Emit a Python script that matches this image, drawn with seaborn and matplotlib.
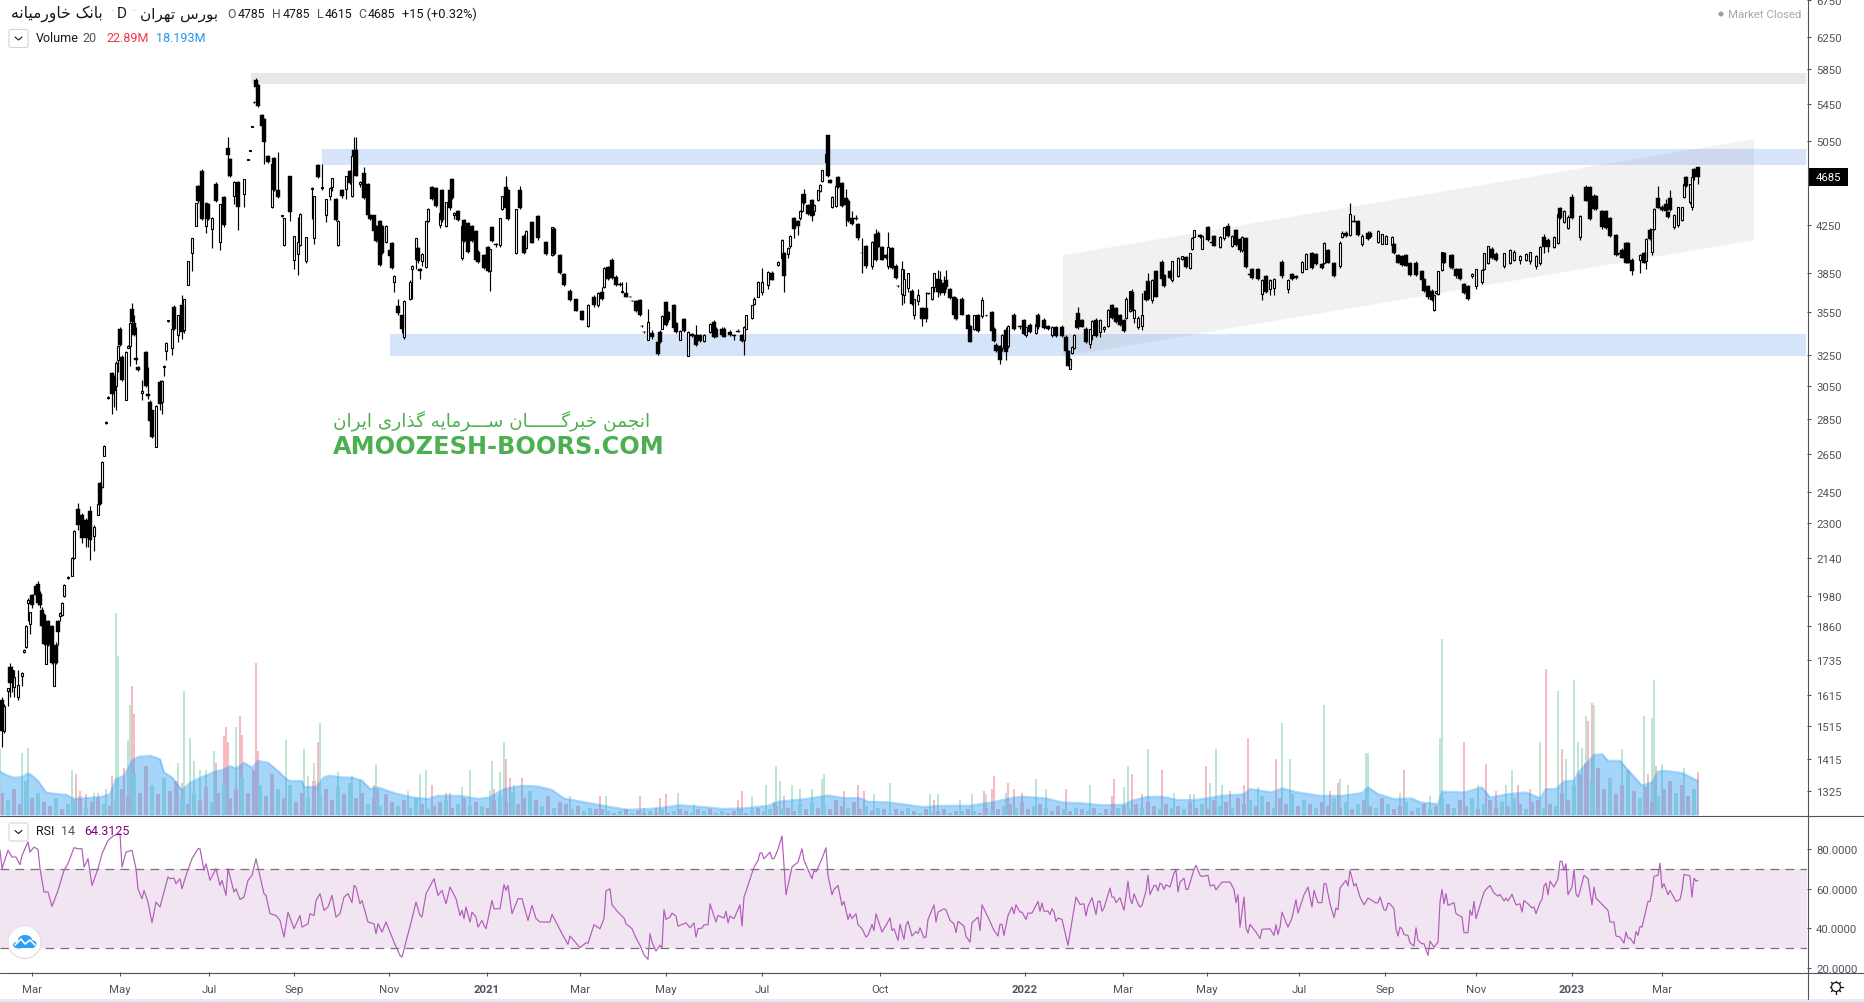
import numpy as np
import pandas as pd
import matplotlib
matplotlib.use('Agg')
import matplotlib.pyplot as plt
import seaborn as sns
from matplotlib.lines import Line2D
from matplotlib.patches import Circle, Ellipse, FancyBboxPatch, Rectangle
from matplotlib.ticker import NullLocator
from matplotlib.transforms import IdentityTransform

# trading day number of each candle
day = [
    1, 2, 4, 5, 6, 7, 9, 11, 12, 13,
    14, 15, 16, 18, 19, 20, 21, 22, 23, 24,
    26, 27, 28, 29, 30, 31, 32, 34, 36, 37,
    39, 41, 43, 44, 45, 47, 49, 50, 51, 52,
    53, 54, 56, 57, 58, 59, 60, 61, 63, 64,
    65, 66, 67, 68, 69, 71, 73, 74, 75, 76,
    78, 80, 81, 82, 83, 84, 86, 87, 89, 91,
    92, 94, 96, 98, 99, 101, 103, 104, 106, 108,
    110, 112, 114, 115, 117, 119, 122, 124, 125, 126,
    127, 128, 129, 131, 132, 134, 136, 137, 139, 141,
    142, 145, 147, 149, 150, 153, 156, 157, 159, 161,
    163, 165, 166, 168, 169, 171, 173, 175, 176, 177,
    178, 180, 182, 184, 185, 187, 188, 190, 191, 193,
    195, 196, 197, 199, 201, 202, 205, 206, 208, 209,
    210, 211, 213, 214, 216, 218, 220, 221, 223, 225,
    226, 227, 229, 231, 232, 234, 236, 238, 239, 242,
    244, 245, 246, 248, 250, 251, 253, 254, 258, 260,
    262, 263, 266, 269, 273, 276, 277, 280, 282, 285,
    288, 291, 294, 297, 299, 301, 302, 304, 306, 308,
    310, 311, 313, 315, 316, 318, 320, 321, 322, 324,
    326, 329, 330, 331, 333, 334, 337, 338, 340, 342,
    344, 346, 348, 350, 352, 355, 357, 358, 361, 362,
    365, 367, 369, 371, 372, 373, 376, 377, 379, 381,
    384, 386, 389, 391, 392, 394, 395, 397, 399, 400,
    401, 402, 404, 406, 407, 409, 410, 411, 413, 414,
    415, 416, 418, 419, 421, 423, 424, 426, 428, 429,
    431, 433, 436, 438, 439, 441, 443, 444, 446, 448,
    449, 451, 452, 454, 456, 457, 459, 461, 463, 464,
    466, 467, 469, 470, 472, 473, 475, 477, 478, 481,
    484, 485, 487, 489, 491, 493, 496, 497, 498, 500,
    501, 503, 504, 507, 510, 512, 513, 515, 518, 519,
    522, 524, 526, 528, 531, 533, 534, 535, 536, 537,
    538, 539, 541, 543, 545, 546, 548, 550, 552, 554,
    556, 558, 560, 562, 563, 565, 566, 567, 569, 571,
    573, 574, 576, 578, 581, 582, 585, 586, 589, 591,
    593, 595, 596, 597, 600, 601, 604, 606, 607, 610,
    612, 614, 616, 618, 620, 621, 623, 625, 626, 629,
    631, 633, 635, 637, 641, 644, 646, 648, 651, 653,
    656, 658, 661, 662, 664, 667, 670, 671, 673, 675,
    677, 679, 681, 684, 685, 689, 691, 693, 696, 697,
    699, 701, 703, 705, 708, 711, 712, 714, 716, 717,
    718, 719, 721, 722, 725, 726, 728, 730, 732, 734,
    736, 738, 741, 742, 744, 746, 748, 752, 755, 760,
    763, 765, 768, 770, 772, 774, 777, 779, 780, 782,
    784, 786, 790, 793, 795, 797, 798, 801, 803, 805,
    808, 809, 811, 813, 814, 816, 820, 822, 823, 825,
    826, 827, 829, 831, 833, 834, 835, 837, 839, 841,
    842, 843, 845, 846, 847, 849, 757,
]
opens = [
    1600, 1500, 1627, 1712, 1700, 1643, 1607, 1680, 1765, 1782,
    1950, 1870, 1985, 2020, 2030, 1990, 1925, 1905, 1720, 1880,
    1860, 1645, 1790, 1880, 1900, 1905, 1980, 2055, 2065, 2140,
    2370, 2340, 2315, 2235, 2360, 2240, 2340, 2500, 2475, 2640,
    2825, 2975, 3130, 3100, 3050, 3220, 3430, 3235, 2960, 3300,
    3310, 3570, 3470, 3230, 3170, 3005, 3270, 3000, 2950, 2900,
    2690, 3075, 2950, 3170, 3275, 3485, 3300, 3590, 3385, 3600,
    3420, 3750, 4005, 4240, 4600, 4740, 4240, 4435, 4215, 4620,
    4100, 4500, 4975, 4865, 4510, 4640, 4530, 4855, 4945, 5195,
    5465, 5720, 5665, 5320, 5280, 4895, 4405, 4870, 4560, 4325,
    4075, 4695, 3950, 4000, 4075, 3945, 4570, 4130, 4800, 4580,
    4330, 4510, 4590, 4480, 4075, 4560, 4570, 4740, 4510, 4950,
    4950, 4620, 4730, 4620, 4330, 4330, 4240, 4285, 4240, 4100,
    4030, 4090, 3775, 3595, 3525, 3370, 3650, 3880, 3960, 4050,
    3875, 3945, 3895, 4280, 4590, 4580, 4245, 4560, 4240, 4560,
    4665, 4330, 4370, 3970, 4290, 4265, 4240, 4190, 4020, 3990,
    4060, 3860, 4230, 4080, 4075, 4390, 4590, 4560, 4005, 4560,
    4150, 4050, 4270, 4325, 4100, 3990, 4215, 3990, 3840, 3710,
    3645, 3555, 3450, 3665, 3600, 3700, 3740, 3895, 3950, 3815,
    3760, 3700, 3690, 3665, 3635, 3630, 3640, 3450, 3410, 3355,
    3400, 3340, 3410, 3430, 3625, 3550, 3600, 3470, 3355, 3500,
    3245, 3395, 3385, 3385, 3345, 3410, 3480, 3430, 3430, 3430,
    3410, 3385, 3415, 3385, 3350, 3430, 3510, 3610, 3665, 3700,
    3750, 3850, 3910, 3970, 4005, 4000, 4065, 4310, 4280, 4305,
    4370, 4525, 4420, 4470, 4370, 4470, 4550, 4645, 4830, 5105,
    4660, 4405, 4415, 4685, 4630, 4490, 4465, 4310, 4310, 4255,
    4010, 4070, 3905, 4170, 4180, 4060, 3990, 3905, 4050, 3905,
    3745, 3685, 3675, 3730, 3710, 3525, 3630, 3580, 3580, 3690,
    3650, 3735, 3800, 3790, 3770, 3795, 3720, 3665, 3650, 3650,
    3525, 3450, 3430, 3525, 3520, 3525, 3550, 3430, 3320, 3310,
    3295, 3420, 3310, 3525, 3450, 3490, 3385, 3460, 3400, 3525,
    3495, 3450, 3385, 3440, 3445, 3375, 3275, 3160, 3265, 3295,
    3440, 3545, 3490, 3430, 3325, 3385, 3490, 3410, 3430, 3450,
    3600, 3580, 3525, 3490, 3510, 3560, 3700, 3510, 3440, 3450,
    3710, 3785, 3640, 3860, 3935, 3830, 3860, 3790, 3825, 3960,
    3975, 3885, 4045, 4145, 4160, 4045, 4230, 4100, 4150, 4060,
    4130, 4240, 4070, 4205, 4125, 4030, 4130, 3840, 3880, 3880,
    3685, 3820, 3720, 3730, 3935, 3720, 3840, 3820, 3855, 3880,
    4005, 4000, 3920, 3925, 4030, 3925, 3905, 4140, 4180, 4160,
    4280, 4280, 4080, 4180, 4180, 4100, 4085, 4085, 4075, 4080,
    3990, 3980, 3990, 3925, 3930, 3860, 3800, 3745, 3710, 3565,
    3690, 3685, 3870, 4005, 3900, 3990, 3880, 3880, 3760, 3745,
    3820, 3745, 3780, 3880, 3925, 4040, 4000, 3905, 3930, 3950,
    3955, 3940, 3905, 3930, 4145, 4120, 4060, 4090, 4395, 4270,
    4220, 4500, 4140, 4590, 4590, 4510, 4510, 4370, 4370, 4305,
    4160, 4005, 4030, 4090, 4090, 3950, 3950, 4005, 3945, 4205,
    4020, 4215, 4490, 4405, 4430, 4360, 4490, 4230, 4250, 4290,
    4500, 4685, 4450, 4405, 4760, 4785, 3950,
]
highs = [
    1610, 1585, 1640, 1725, 1715, 1700, 1700, 1695, 1775, 1865,
    1970, 1915, 1990, 2025, 2040, 2000, 1935, 1910, 1800, 1885,
    1865, 1740, 1800, 1885, 1915, 1955, 2030, 2065, 2145, 2270,
    2395, 2350, 2325, 2320, 2380, 2290, 2395, 2505, 2615, 2700,
    2835, 2985, 3140, 3120, 3210, 3315, 3440, 3250, 3275, 3315,
    3480, 3620, 3530, 3440, 3175, 3090, 3280, 3170, 2960, 2905,
    2930, 3090, 3090, 3185, 3335, 3495, 3430, 3600, 3530, 3680,
    3650, 3945, 4135, 4445, 4610, 4760, 4450, 4440, 4320, 4640,
    4435, 4510, 5085, 4875, 4645, 4650, 4670, 4865, 4955, 5205,
    5475, 5740, 5670, 5330, 5290, 4900, 4815, 4880, 4935, 4335,
    4310, 4700, 4155, 4320, 4350, 4145, 4590, 4510, 4810, 4810,
    4480, 4590, 4680, 4490, 4290, 4570, 4700, 4750, 4900, 5085,
    5085, 4650, 4780, 4630, 4340, 4335, 4250, 4290, 4250, 4250,
    4040, 4100, 3830, 3650, 3530, 3640, 3790, 3910, 4135, 4060,
    3885, 4010, 4285, 4395, 4600, 4590, 4360, 4570, 4455, 4570,
    4680, 4360, 4380, 4245, 4300, 4275, 4250, 4200, 4030, 4000,
    4070, 4045, 4240, 4095, 4310, 4510, 4700, 4570, 4390, 4600,
    4170, 4200, 4280, 4335, 4110, 4230, 4225, 4000, 3850, 3720,
    3650, 3565, 3610, 3680, 3700, 3740, 3895, 3900, 3965, 3830,
    3775, 3780, 3780, 3670, 3640, 3640, 3650, 3455, 3415, 3570,
    3420, 3350, 3420, 3525, 3635, 3560, 3610, 3480, 3420, 3510,
    3415, 3400, 3460, 3390, 3390, 3470, 3490, 3440, 3440, 3440,
    3420, 3395, 3425, 3395, 3450, 3530, 3605, 3660, 3785, 3890,
    3860, 3860, 3940, 4125, 4020, 4055, 4160, 4320, 4290, 4375,
    4530, 4570, 4430, 4480, 4430, 4565, 4615, 4755, 4915, 5110,
    4670, 4505, 4605, 4700, 4640, 4570, 4475, 4370, 4330, 4265,
    4130, 4075, 4105, 4215, 4190, 4070, 4000, 4185, 4060, 3915,
    3750, 3945, 3880, 3850, 3720, 3650, 3725, 3590, 3700, 3695,
    3740, 3850, 3870, 3860, 3820, 3870, 3730, 3670, 3660, 3660,
    3535, 3460, 3530, 3535, 3660, 3530, 3560, 3440, 3330, 3320,
    3390, 3440, 3460, 3545, 3460, 3500, 3445, 3470, 3470, 3540,
    3510, 3460, 3450, 3450, 3455, 3385, 3285, 3230, 3310, 3390,
    3495, 3590, 3500, 3440, 3430, 3490, 3510, 3500, 3450, 3570,
    3610, 3590, 3535, 3500, 3660, 3710, 3720, 3570, 3520, 3690,
    3720, 3850, 3800, 3870, 3955, 3840, 3870, 3945, 3975, 3985,
    3985, 4010, 4140, 4205, 4170, 4160, 4240, 4110, 4160, 4150,
    4230, 4260, 4160, 4215, 4135, 4150, 4140, 3850, 3890, 3890,
    3800, 3830, 3800, 3810, 3950, 3800, 3850, 3835, 3945, 4010,
    4015, 4010, 3930, 4100, 4040, 3935, 4105, 4190, 4190, 4440,
    4330, 4290, 4170, 4190, 4190, 4200, 4170, 4160, 4155, 4090,
    4000, 3990, 4000, 3935, 3940, 3870, 3810, 3755, 3720, 3680,
    3710, 3865, 4020, 4015, 3995, 4000, 3890, 3890, 3770, 3755,
    3845, 3880, 3880, 4010, 4070, 4060, 4020, 4010, 4040, 3990,
    4010, 4020, 3990, 4065, 4170, 4130, 4150, 4350, 4405, 4380,
    4330, 4530, 4330, 4610, 4600, 4530, 4520, 4380, 4380, 4320,
    4170, 4010, 4050, 4100, 4100, 3965, 4000, 4020, 4130, 4220,
    4215, 4395, 4600, 4420, 4480, 4370, 4560, 4340, 4410, 4410,
    4620, 4700, 4620, 4690, 4770, 4785, 4030,
]
lows = [
    1450, 1495, 1580, 1610, 1625, 1610, 1600, 1645, 1760, 1780,
    1880, 1830, 1930, 1975, 1945, 1930, 1850, 1790, 1720, 1785,
    1720, 1645, 1720, 1790, 1880, 1900, 1975, 2050, 2065, 2135,
    2270, 2210, 2190, 2190, 2130, 2170, 2340, 2385, 2470, 2640,
    2820, 2970, 2880, 2920, 2900, 3140, 3310, 3080, 2960, 3295,
    3180, 3470, 3380, 3190, 3145, 2960, 3040, 2970, 2830, 2740,
    2690, 2900, 2880, 3110, 3220, 3480, 3250, 3420, 3340, 3360,
    3400, 3750, 3860, 4235, 4440, 4290, 4180, 4290, 4050, 4450,
    4030, 4230, 4695, 4690, 4430, 4200, 4410, 4850, 4940, 5190,
    5460, 5610, 5410, 5190, 4810, 4820, 4400, 4550, 4490, 4320,
    4070, 4280, 3880, 3830, 4070, 3930, 4300, 4080, 4680, 4560,
    4270, 4470, 4550, 4280, 4070, 4490, 4480, 4620, 4500, 4890,
    4695, 4590, 4480, 4330, 4290, 4185, 4100, 3900, 4000, 4095,
    3980, 3880, 3700, 3530, 3400, 3360, 3640, 3650, 3880, 3930,
    3800, 3900, 3890, 4270, 4470, 4405, 4220, 4275, 4230, 4380,
    4480, 4300, 4285, 3950, 4100, 4010, 4100, 3945, 3930, 3880,
    3855, 3710, 4100, 4060, 4060, 4380, 4390, 4290, 4000, 4390,
    4000, 4040, 4090, 4120, 3990, 3980, 3990, 3840, 3745, 3635,
    3555, 3490, 3440, 3590, 3590, 3640, 3730, 3790, 3800, 3745,
    3745, 3695, 3660, 3660, 3630, 3550, 3520, 3445, 3400, 3350,
    3360, 3250, 3330, 3425, 3450, 3480, 3430, 3400, 3350, 3410,
    3240, 3370, 3310, 3340, 3340, 3400, 3365, 3370, 3380, 3370,
    3380, 3350, 3405, 3340, 3250, 3425, 3500, 3600, 3660, 3680,
    3720, 3790, 3900, 3950, 3700, 3970, 4050, 4130, 4160, 4290,
    4360, 4430, 4330, 4280, 4330, 4460, 4540, 4640, 4820, 4690,
    4625, 4400, 4410, 4580, 4410, 4240, 4275, 4250, 4290, 4120,
    3850, 3890, 3880, 3940, 4055, 3950, 3960, 3880, 3880, 3800,
    3740, 3600, 3620, 3700, 3600, 3500, 3600, 3450, 3480, 3685,
    3640, 3700, 3660, 3680, 3680, 3725, 3650, 3525, 3490, 3525,
    3425, 3335, 3420, 3410, 3510, 3520, 3410, 3340, 3270, 3190,
    3280, 3220, 3300, 3420, 3430, 3385, 3375, 3400, 3395, 3430,
    3430, 3420, 3370, 3375, 3375, 3270, 3175, 3155, 3260, 3290,
    3435, 3430, 3440, 3330, 3300, 3350, 3370, 3370, 3410, 3440,
    3500, 3470, 3450, 3405, 3500, 3550, 3560, 3470, 3430, 3420,
    3630, 3640, 3620, 3660, 3790, 3740, 3800, 3780, 3815, 3950,
    3890, 3880, 4030, 4140, 4135, 4040, 4110, 4090, 4065, 4050,
    4120, 4140, 4060, 4070, 4020, 4020, 3890, 3830, 3800, 3790,
    3640, 3690, 3680, 3680, 3810, 3690, 3790, 3800, 3850, 3875,
    3880, 3910, 3880, 3920, 3925, 3815, 3890, 4130, 4140, 4150,
    4270, 4150, 4070, 4120, 4130, 4090, 4080, 4080, 4070, 4000,
    3925, 3905, 3900, 3825, 3825, 3790, 3700, 3650, 3630, 3555,
    3685, 3680, 3860, 3925, 3890, 3880, 3810, 3790, 3685, 3640,
    3810, 3720, 3760, 3870, 3920, 3960, 3940, 3890, 3920, 3920,
    3940, 3920, 3880, 3910, 4010, 4020, 4050, 4085, 4300, 4260,
    4210, 4300, 4120, 4460, 4290, 4380, 4380, 4215, 4215, 4145,
    3985, 3995, 3965, 3925, 3925, 3830, 3850, 3925, 3880, 4120,
    3990, 4200, 4395, 4370, 4360, 4310, 4370, 4210, 4230, 4280,
    4490, 4590, 4430, 4380, 4660, 4615, 3940,
]
closes = [
    1500, 1580, 1637, 1655, 1660, 1675, 1648, 1690, 1770, 1862,
    1965, 1915, 1945, 1985, 1950, 1945, 1860, 1795, 1800, 1790,
    1725, 1738, 1725, 1840, 1910, 1950, 2025, 2060, 2140, 2265,
    2290, 2230, 2230, 2310, 2220, 2280, 2390, 2390, 2610, 2695,
    2830, 2980, 3000, 3020, 3200, 3310, 3315, 3085, 3270, 3310,
    3470, 3475, 3385, 3220, 3150, 3020, 3050, 2990, 2835, 2745,
    2925, 2940, 3080, 3180, 3330, 3490, 3425, 3430, 3525, 3410,
    3645, 3940, 4130, 4440, 4465, 4300, 4440, 4300, 4310, 4465,
    4430, 4245, 4900, 4700, 4640, 4410, 4665, 4860, 4950, 5200,
    5470, 5640, 5420, 5200, 5040, 4830, 4810, 4560, 4500, 4330,
    4305, 4365, 4150, 4100, 4345, 4140, 4580, 4505, 4690, 4590,
    4480, 4580, 4675, 4290, 4285, 4505, 4695, 4625, 4895, 4895,
    4700, 4640, 4485, 4335, 4300, 4190, 4105, 3910, 4005, 4240,
    3985, 3885, 3825, 3540, 3430, 3630, 3780, 3905, 4130, 3940,
    3860, 4000, 4280, 4390, 4480, 4415, 4355, 4290, 4450, 4395,
    4490, 4355, 4290, 4240, 4110, 4020, 4110, 3950, 3935, 3890,
    3860, 4040, 4110, 4075, 4305, 4505, 4400, 4295, 4385, 4400,
    4010, 4195, 4095, 4130, 4000, 4225, 4000, 3850, 3750, 3640,
    3560, 3495, 3605, 3600, 3695, 3650, 3890, 3800, 3805, 3750,
    3750, 3705, 3665, 3662, 3632, 3555, 3525, 3447, 3405, 3480,
    3370, 3255, 3335, 3520, 3455, 3490, 3435, 3410, 3415, 3415,
    3410, 3380, 3320, 3345, 3385, 3465, 3370, 3375, 3385, 3375,
    3385, 3380, 3410, 3345, 3445, 3525, 3600, 3650, 3780, 3780,
    3855, 3795, 3935, 4120, 3825, 4050, 4155, 4210, 4240, 4370,
    4525, 4440, 4345, 4325, 4425, 4560, 4610, 4750, 4910, 4700,
    4630, 4500, 4600, 4590, 4415, 4420, 4280, 4255, 4295, 4130,
    4005, 3900, 4100, 3950, 4060, 3955, 3970, 4060, 3885, 3810,
    3742, 3880, 3800, 3845, 3610, 3645, 3675, 3500, 3500, 3688,
    3735, 3845, 3700, 3690, 3690, 3735, 3655, 3530, 3500, 3530,
    3430, 3340, 3525, 3415, 3640, 3527, 3415, 3345, 3275, 3220,
    3385, 3270, 3450, 3430, 3440, 3395, 3440, 3410, 3465, 3440,
    3435, 3425, 3445, 3380, 3380, 3280, 3180, 3225, 3305, 3385,
    3490, 3440, 3445, 3340, 3425, 3485, 3380, 3490, 3445, 3565,
    3510, 3480, 3455, 3415, 3650, 3705, 3565, 3565, 3510, 3530,
    3640, 3645, 3795, 3665, 3800, 3745, 3810, 3940, 3970, 3980,
    3895, 4005, 4135, 4200, 4140, 4155, 4115, 4095, 4070, 4145,
    4225, 4150, 4155, 4075, 4030, 4145, 3895, 3835, 3810, 3800,
    3795, 3700, 3795, 3800, 3820, 3790, 3800, 3810, 3935, 4000,
    3890, 3920, 3890, 4095, 3930, 3825, 4095, 4180, 4150, 4345,
    4275, 4160, 4150, 4125, 4140, 4190, 4165, 4155, 4145, 4005,
    3930, 3910, 3905, 3830, 3830, 3795, 3705, 3660, 3640, 3675,
    3705, 3860, 4015, 3930, 3990, 3885, 3820, 3800, 3690, 3650,
    3840, 3875, 3870, 4005, 4065, 3970, 3950, 4005, 4030, 3985,
    4000, 4015, 3985, 4060, 4060, 4060, 4145, 4345, 4305, 4370,
    4320, 4305, 4325, 4465, 4295, 4390, 4385, 4225, 4220, 4150,
    3990, 4000, 3970, 3930, 3930, 3865, 3995, 3930, 4125, 4125,
    4210, 4390, 4400, 4375, 4370, 4320, 4380, 4335, 4405, 4405,
    4615, 4600, 4615, 4685, 4685, 4685, 4020,
]

# tall volume bars (millions), g = up day, r = down day
spike_day = [
    0, 11, 14, 36, 38, 40, 43, 47, 49, 53, 56, 58, 59, 62, 64, 65, 66, 67, 89, 91,
    92, 95, 97, 100, 103, 107, 108, 112, 113, 114, 118, 120, 121, 128, 129, 143, 152, 154, 157, 159,
    160, 169, 176, 180, 187, 188, 189, 204, 210, 213, 216, 223, 225, 231, 235, 245, 246, 247, 250, 252,
    253, 255, 257, 261, 285, 300, 303, 320, 322, 328, 330, 333, 339, 347, 369, 371, 376, 383, 387, 388,
    390, 392, 396, 400, 406, 411, 412, 422, 429, 432, 437, 445, 465, 467, 469, 480, 486, 492, 493, 496,
    497, 503, 504, 507, 511, 518, 523, 533, 545, 556, 557, 562, 564, 566, 571, 574, 581, 587, 595, 597,
    603, 605, 608, 611, 615, 622, 624, 629, 638, 641, 645, 662, 665, 669, 670, 674, 683, 684, 700, 702,
    715, 720, 721, 732, 739, 743, 748, 753, 756, 759, 765, 770, 773, 779, 781, 783, 787, 789, 791, 793,
    794, 796, 797, 811, 822, 824, 826, 827, 828, 831, 842, 849,
]
spike_vol = [
    35, 33, 36, 24, 22, 13, 11, 12, 12, 14, 21, 108, 85, 25, 40, 59, 69, 54, 28, 17,
    66, 41, 29, 24, 24, 34, 28, 42, 47, 39, 47, 53, 43, 81, 34, 40, 35, 21, 28, 39,
    49, 23, 21, 19, 16, 27, 14, 13, 22, 24, 16, 12, 12, 15, 24, 13, 29, 14, 23, 39,
    30, 20, 16, 20, 10, 10, 10, 10, 4, 4, 9, 11, 12, 6, 8, 13, 10, 16, 7, 26,
    18, 10, 16, 14, 14, 19, 22, 13, 16, 13, 11, 17, 11, 8, 11, 8, 11, 13, 11, 14,
    21, 12, 17, 14, 12, 19, 14, 14, 16, 10, 19, 15, 26, 22, 11, 35, 24, 12, 11, 11,
    26, 17, 35, 16, 13, 16, 41, 15, 30, 49, 30, 59, 13, 17, 19, 16, 33, 33, 12, 24,
    10, 41, 94, 39, 16, 27, 13, 16, 24, 16, 14, 39, 78, 66, 35, 30, 72, 39, 36, 53,
    50, 60, 59, 35, 53, 22, 52, 72, 26, 27, 25, 23,
]
spike_side = (
    'ggggrrrgggrggrggrrgr'
    'ggggggrrrrgrrrrggggr'
    'ggggrgrgggrrrggggrgg'
    'rrgrgrgrgrrrggrrggrg'
    'grgggggrrrgggrgggrgr'
    'rgrrrggrgrrggrrgrggg'
    'rgggrrrgrgggrrgggggr'
    'gggrgrrggrrgrgrggggg'
    'rrgggrggrggr'
)

# lower volume bars, one every third trading day
low_vol = [
    12, 8, 14, 6, 18, 9, 12, 7, 5, 9, 3, 6, 8, 10, 4, 7, 9, 6, 5, 8,
    14, 10, 22, 12, 26, 16, 11, 20, 13, 18, 9, 6, 12, 8, 15, 7, 12, 16, 9, 14,
    20, 12, 24, 16, 10, 22, 14, 9, 16, 7, 12, 9, 18, 10, 14, 8, 15, 11, 17, 9,
    12, 6, 9, 5, 11, 7, 5, 8, 4, 9, 6, 3, 5, 7, 8, 4, 6, 9, 5, 7,
    5, 4, 8, 10, 7, 12, 6, 9, 13, 8, 5, 10, 4, 7, 6, 3, 5, 2, 4, 3,
    3, 2, 1, 2, 3, 1, 2, 1, 2, 1, 3, 1, 2, 3, 2, 1, 3, 2, 3, 1,
    2, 1, 2, 3, 1, 2, 4, 2, 3, 5, 3, 4, 2, 6, 3, 7, 4, 5, 3, 8,
    5, 4, 7, 3, 5, 2, 4, 3, 1, 3, 2, 4, 2, 1, 3, 1, 2, 3, 1, 2,
    2, 3, 2, 1, 4, 2, 3, 5, 6, 4, 7, 3, 5, 6, 4, 2, 5, 3, 2, 4,
    3, 2, 4, 1, 3, 2, 4, 5, 3, 6, 4, 7, 5, 3, 6, 4, 5, 3, 7, 4,
    6, 3, 8, 5, 7, 4, 9, 6, 8, 5, 10, 7, 4, 9, 6, 11, 5, 8, 6, 4,
    7, 5, 9, 4, 7, 3, 6, 8, 5, 4, 9, 6, 3, 5, 7, 2, 4, 6, 3, 5,
    9, 6, 4, 8, 5, 9, 3, 6, 8, 4, 7, 5, 9, 6, 3, 7, 8, 4, 6, 5,
    12, 8, 16, 22, 28, 18, 25, 14, 20, 11, 16, 24, 13, 9, 15, 7, 10, 14, 18, 12,
    16, 10, 14,
]
low_side = (
    'rgrrgrgrrgrggrgrrgrg' 'rrgrrgrgrrgrgrrgrgrr' 'grrgrrgrgrrgrgrrgrgr' 'rgrgrrgrggrgrrgrgrgr'
    'grrgrgrrgrgrgrrgrggr' 'rgrgrgrrgrgrgrrgrgrg' 'grrgrgrggrgrrgrgrgrr' 'rgrrgrgrgrrgrgrgrrgr'
    'grgrrgrgrgrrgrgrrgrg' 'rgrgrrgrgrgrrgrgrgrr' 'grrgrgrrgrgrgrrgrgrg' 'rrgrgrgrrgrgrrgrgrgr'
    'grgrrgrgrrgrgrgrrgrg' 'rrgrrgrrgrrgrgrrgrrg' 'rrg'
)

# 20 day volume average (millions)
ma_day = [
    0, 3, 7, 11, 14, 16, 19, 23, 27, 33, 37, 44, 51, 55, 58, 62, 66, 69, 75, 80,
    82, 86, 91, 95, 101, 107, 112, 115, 118, 122, 126, 129, 134, 139, 143, 145, 151, 152, 158, 162,
    165, 170, 176, 181, 185, 189, 197, 206, 214, 219, 230, 239, 245, 252, 261, 269, 276, 282, 291, 302,
    313, 324, 332, 340, 354, 362, 373, 384, 389, 403, 414, 422, 430, 434, 444, 452, 462, 471, 485, 496,
    507, 512, 523, 531, 540, 551, 562, 566, 574, 581, 589, 597, 606, 611, 622, 625, 636, 641, 649, 660,
    671, 681, 684, 689, 697, 706, 710, 719, 721, 732, 741, 745, 754, 763, 770, 773, 778, 782, 787, 789,
    797, 801, 804, 810, 815, 821, 826, 829, 832, 841, 849,
]
ma_vol = [
    23.2, 21.4, 20, 20.3, 22.3, 21.1, 18.2, 12.1, 11.4, 10.9, 8.6, 9.1, 9.8, 11.2, 19.3, 21, 29, 31.1, 31.7, 29.9,
    22.8, 20.1, 13.2, 17.3, 20.3, 23, 24.4, 26.2, 24.9, 28, 25.3, 28.9, 28, 23.5, 19.4, 18.2, 18.2, 15, 15, 20.3,
    21, 20.2, 20, 18.4, 14, 14.8, 11.8, 9.5, 8.6, 10.3, 10.3, 8.6, 9.5, 13.9, 15.7, 15.3, 13.4, 8.9, 7.1, 5,
    2.9, 3.2, 4.1, 5.3, 4.1, 3.2, 3.7, 5, 7.1, 8.6, 10.5, 9.1, 9, 7.1, 6.8, 5.7, 4.3, 5, 5, 6.8,
    9.4, 9.8, 8.9, 6.8, 6.4, 5.3, 5.5, 7.7, 9.8, 9.8, 8, 8, 9.4, 10.3, 11.2, 13.9, 12.1, 14.3, 12.1, 10.3,
    10.3, 11.8, 14.8, 11.2, 8.6, 8.9, 6.8, 5.9, 12.5, 12.1, 14.8, 9.4, 11.2, 12.1, 9.1, 13.9, 13.9, 18, 18.4, 22.5,
    32.1, 32.6, 29, 29, 22.8, 15.7, 17.5, 23.2, 23.7, 22.5, 18.2,
]

rsi_day = [
    0, 1, 4, 6, 8, 10, 11, 14, 15, 17, 19, 20, 22, 24, 26, 29, 32, 34, 37, 39,
    41, 42, 44, 46, 49, 51, 54, 57, 60, 61, 63, 66, 68, 69, 71, 72, 74, 76, 78, 80,
    82, 84, 85, 87, 88, 90, 91, 93, 96, 99, 100, 102, 103, 105, 108, 110, 111, 113, 114, 117,
    118, 120, 122, 124, 126, 128, 132, 133, 135, 138, 140, 142, 144, 147, 150, 151, 154, 155, 157, 158,
    160, 162, 164, 166, 168, 170, 172, 174, 176, 177, 178, 180, 181, 184, 187, 188, 189, 191, 193, 197,
    200, 201, 206, 208, 210, 211, 213, 217, 219, 221, 223, 225, 228, 230, 231, 232, 233, 235, 236, 238,
    239, 241, 242, 243, 246, 247, 250, 252, 253, 254, 256, 259, 261, 264, 266, 268, 270, 275, 276, 278,
    281, 284, 285, 290, 293, 294, 297, 300, 302, 303, 305, 306, 309, 312, 313, 316, 318, 320, 322, 324,
    325, 326, 328, 330, 331, 332, 333, 335, 336, 338, 339, 343, 345, 347, 348, 349, 351, 352, 354, 355,
    358, 359, 362, 363, 364, 365, 367, 370, 371, 372, 373, 377, 379, 380, 381, 382, 385, 386, 387, 389,
    391, 393, 396, 399, 401, 402, 406, 407, 408, 411, 413, 414, 416, 417, 419, 421, 422, 424, 425, 426,
    428, 429, 431, 433, 434, 436, 437, 438, 441, 443, 445, 446, 447, 449, 450, 452, 453, 454, 456, 458,
    459, 460, 462, 463, 464, 467, 468, 469, 472, 473, 475, 477, 478, 479, 482, 483, 485, 486, 489, 490,
    491, 494, 497, 499, 500, 501, 502, 504, 506, 507, 508, 510, 511, 513, 514, 516, 519, 520, 521, 522,
    524, 525, 526, 527, 528, 529, 531, 534, 538, 540, 542, 543, 544, 546, 548, 549, 550, 551, 552, 555,
    556, 557, 558, 560, 562, 564, 565, 566, 567, 569, 570, 571, 573, 574, 575, 577, 578, 579, 580, 581,
    582, 583, 585, 587, 588, 589, 590, 592, 593, 594, 597, 598, 600, 601, 604, 605, 607, 608, 611, 615,
    617, 618, 619, 620, 622, 623, 624, 625, 628, 630, 631, 635, 637, 638, 639, 640, 641, 644, 646, 648,
    649, 652, 654, 656, 657, 659, 661, 662, 663, 665, 667, 668, 669, 670, 673, 674, 675, 677, 678, 680,
    682, 684, 686, 688, 689, 690, 692, 693, 694, 695, 697, 698, 699, 700, 701, 702, 704, 705, 707, 708,
    709, 711, 712, 714, 715, 717, 719, 720, 721, 722, 723, 724, 727, 728, 731, 732, 734, 735, 736, 737,
    738, 740, 742, 743, 745, 747, 749, 750, 752, 753, 754, 756, 758, 760, 761, 762, 764, 766, 767, 768,
    770, 771, 772, 773, 774, 775, 777, 779, 780, 781, 782, 783, 784, 786, 787, 788, 789, 790, 792, 794,
    796, 797, 798, 804, 805, 807, 808, 810, 812, 813, 814, 815, 817, 818, 819, 820, 821, 824, 825, 826,
    827, 829, 830, 831, 832, 834, 835, 838, 840, 841, 842, 845, 846, 847, 848, 849,
]
rsi_val = [
    79.5, 70.2, 79.5, 76.1, 76.1, 72.2, 76.9, 83.7, 78.6, 81.1, 80, 70.2, 58.4, 58.4, 51.1, 59.2, 69.3, 72.7, 80.8, 80.3,
    80.3, 71, 75.2, 61.7, 70.2, 77.8, 84.5, 87, 87.9, 71, 78.6, 79.5, 70.2, 60, 55, 59.2, 53.3, 42.8, 53.3, 50.8,
    58.4, 66, 65.1, 65.4, 62.6, 65.1, 60, 66.8, 75.2, 80.3, 80.3, 69.3, 72.7, 64.3, 70.2, 61.7, 64.3, 56.7, 70.2, 58.4,
    60, 54.6, 55.8, 64.3, 66.8, 75.2, 57.5, 56.7, 47.4, 46.5, 44, 35.6, 48.2, 39.8, 46.5, 40.6, 42.3, 47.4, 46.5, 54.1,
    57.5, 49.1, 50.8, 56.7, 45.7, 47.4, 55.8, 57.5, 53, 61.7, 60.9, 52.4, 54.1, 43.2, 42.3, 37.3, 42.3, 38.1, 43.2, 33,
    26.3, 25.4, 44.9, 53.3, 46.5, 45.7, 57.5, 65.1, 56.7, 59.2, 52.4, 60.9, 55, 46.5, 49.1, 44.9, 50.8, 43.2, 48.2, 45.7,
    40.6, 44, 41.5, 39.8, 54.1, 49.9, 49.9, 62.1, 59.2, 61.7, 47.4, 55, 55, 44, 51.6, 44.9, 43.2, 43.2, 47, 43.2,
    37.3, 31.9, 36.1, 30.2, 32.7, 32.5, 41.8, 39.8, 44.9, 58.9, 60, 51.9, 48.2, 45.2, 42.3, 39.8, 35.1, 31.4, 26.6, 24.3,
    37.3, 33, 28.5, 31.4, 30.2, 49.4, 44.5, 45.7, 47.7, 46.2, 41.1, 42.8, 40.3, 42.8, 35.6, 39.8, 40.1, 41.8, 41.8, 52.4,
    43.2, 46.5, 45.2, 48.6, 42.8, 46.2, 44.9, 51.9, 41.1, 55.8, 58.7, 71, 74.4, 78.1, 78.1, 75.2, 78.6, 75.2, 75.2, 80,
    86.7, 57, 71, 73.5, 80.3, 74.4, 65.1, 69.3, 68.5, 75.2, 80.8, 66.8, 57, 59.7, 61.7, 51.6, 53.6, 44.5, 47.4, 44.9,
    47.4, 41.8, 39.8, 35.6, 36.4, 42, 38.9, 47.4, 38.1, 41.5, 45.2, 38.9, 39.8, 33.9, 42, 34.4, 41.5, 43.5, 36.1, 38.4,
    37.3, 40.3, 35.2, 35.6, 44.5, 51.9, 43.2, 48.2, 49.9, 49.4, 44, 42.3, 37.8, 43.5, 41.1, 35.9, 33, 42.8, 45.7, 38.9,
    51.9, 45.7, 38.9, 36.1, 42, 42, 36.4, 46.5, 50.8, 47.4, 51.9, 48.2, 48.2, 44.5, 47.7, 47.7, 53.6, 48.6, 52.8, 48.7,
    48.7, 47, 49.9, 48.2, 43.5, 45.2, 44.5, 31.4, 55.8, 52.1, 52.4, 46.2, 51.1, 55.5, 47, 53.6, 53.8, 48.6, 50.3, 60.4,
    55.8, 55.8, 53, 55.5, 49.1, 63.8, 55, 52.4, 57.5, 52.4, 50.8, 51.6, 58.9, 66.8, 57, 61.7, 61.7, 58.9, 62.9, 62.1,
    59.7, 62.1, 60.9, 68.1, 69.5, 58.4, 63.4, 65.4, 59.7, 59.7, 69.8, 71.9, 66.8, 66.3, 66.8, 61.4, 62.1, 59.5, 63.4, 63.4,
    59.7, 53, 57, 40.6, 55.8, 40.1, 37.6, 42, 38.1, 34.8, 39.5, 39.8, 36.4, 41.8, 36.8, 40.6, 48.2, 40.6, 45.2, 54.5,
    47.7, 57, 60.9, 50.8, 59.2, 53, 53, 62.6, 62.6, 52.4, 45.4, 50.3, 49.4, 60.4, 64.3, 61.4, 69.3, 61.4, 62.6, 55.8,
    51.9, 55.3, 54.1, 52.8, 53, 55.8, 49.4, 49.1, 52.8, 52.4, 49.9, 39.8, 36.1, 40.6, 39.8, 36.8, 36.4, 32.7, 31, 40.3,
    33.9, 32.2, 32.2, 26.3, 33.5, 30.5, 33, 53.3, 59.7, 52.4, 57.5, 51.6, 53, 47.4, 45.7, 37.8, 37.8, 49.1, 46.5, 53.6,
    44.9, 51.6, 58.4, 59.7, 61.7, 57.8, 56.3, 57.2, 53.8, 55.3, 53.8, 57.2, 51.9, 52.4, 48.2, 54.1, 52.4, 50.3, 50.8, 47.4,
    53, 54.5, 61.4, 62.9, 57, 63.8, 60.9, 65.1, 73.9, 73.9, 69.3, 72.7, 57, 60.9, 69.8, 57.5, 55.8, 58.9, 66.8, 65.1,
    51.9, 60.9, 55.3, 49.1, 43.2, 43.2, 36.1, 35.6, 32.5, 38.1, 35.1, 35.1, 32.2, 38.4, 36.4, 41, 40.6, 53.6, 53.6, 58.4,
    66.3, 66.8, 73, 60.4, 62.6, 57, 59.2, 53.6, 54.6, 59.2, 67.3, 66.5, 55.8, 65.4, 63.9, 64.3,
]

price_ticks = [6750, 6250, 5850, 5450, 5050, 4250, 3850, 3550, 3250, 3050, 2850, 2650,
               2450, 2300, 2140, 1980, 1860, 1735, 1615, 1515, 1415, 1325]
rsi_ticks = [80, 60, 40, 20]
month_days = [16, 60, 104.5, 147, 194.5, 243.5, 290, 333, 381, 440, 512.5, 561.5, 603.5,
              649.5, 692.5, 738, 786, 831]
month_labels = ['Mar', 'May', 'Jul', 'Sep', 'Nov', '2021', 'Mar', 'May', 'Jul', 'Oct', '2022',
                'Mar', 'May', 'Jul', 'Sep', 'Nov', '2023', 'Mar']

W, H = 1864, 1003
AX_COLOR = '#50535e'
UP_VOL, DOWN_VOL = '#bfe6d4', '#f7bcc2'

sns.set_theme(style='white')
plt.rcParams['font.family'] = ['Roboto', 'DejaVu Sans']

fig = plt.figure(figsize=(W / 100, H / 100), dpi=100, facecolor='white')


def rect(left, top, right, bottom):
    return [left / W, 1 - bottom / H, (right - left) / W, (bottom - top) / H]


def label(x, y, s, color='#131722', size=8.2, ha='left', **kw):
    return fig.text(x / W, 1 - y / H, s, color=color, fontsize=size, ha=ha, va='center', **kw)


def shape(patch):
    patch.set_transform(IdentityTransform())
    fig.add_artist(patch)


def px_line(xs, ys, color=AX_COLOR, lw=0.8):
    fig.add_artist(Line2D(xs, [H - y for y in ys], color=color, lw=lw, transform=IdentityTransform()))


# volume sits under the price candles in the same pane
ax_vol = fig.add_axes(rect(0, 0, 1807, 816), zorder=0)
side_colors = {'g': UP_VOL, 'r': DOWN_VOL}
spike_df = pd.DataFrame({'day': spike_day, 'vol': spike_vol, 'side': list(spike_side)})
low_df = pd.DataFrame({'day': [1 + 3 * i for i in range(len(low_vol))], 'vol': low_vol, 'side': list(low_side)})
sns.barplot(data=spike_df, x='day', y='vol', hue='side', palette=side_colors, native_scale=True,
            estimator='max', errorbar=None, dodge=False, width=1.1, saturation=1, legend=False,
            linewidth=0, ax=ax_vol)
sns.barplot(data=low_df, x='day', y='vol', hue='side', palette=side_colors, native_scale=True,
            estimator='max', errorbar=None, dodge=False, width=0.8, saturation=1, legend=False,
            linewidth=0, ax=ax_vol)
ax_vol.fill_between(ma_day, ma_vol, 0, color='#2196f3', alpha=0.4, lw=0, zorder=5)
sns.lineplot(x=ma_day, y=ma_vol, color='#2196f3', alpha=0.35, lw=1.5, estimator=None, ax=ax_vol, zorder=6)
ax_vol.set_xlim(0, 903.5)
ax_vol.set_ylim(0, 436)
ax_vol.set_axis_off()

ax = fig.add_axes(rect(0, 0, 1807, 816), zorder=1)
ax.patch.set_alpha(0)
ax.set_yscale('log')
ax.set_xlim(0, 903.5)
ax.set_ylim(1262, 6758)

# drawn zones
ax.fill_between([125.5, 903], 5670, 5804, color='#e8e8e8', lw=0, zorder=1)
ax.fill_between([161, 903], 4800, 4964, color='#d6e4fa', lw=0, zorder=1)
ax.fill_between([195, 903], 3240, 3390, color='#d6e4fa', lw=0, zorder=1)
ax.fill([531.5, 877, 877, 531.5], [3990, 5065, 4115, 3240], color='#808080', alpha=0.11, lw=0, zorder=2)

# candles: hollow for up days, black for down days
day_arr = np.array(day)
o, h, l, c = map(np.array, (opens, highs, lows, closes))
ax.vlines(day_arr, l, h, color='black', lw=0.85, zorder=3)
up = c >= o
ax.bar(day_arr[up], (c - o)[up], bottom=o[up], width=1.4, facecolor='white', edgecolor='black', lw=0.8, zorder=4)
ax.bar(day_arr[~up], (o - c)[~up], bottom=c[~up], width=1.7, facecolor='black', edgecolor='black', lw=0.3, zorder=4)

ax.yaxis.tick_right()
ax.yaxis.set_major_locator(plt.FixedLocator(price_ticks))
ax.yaxis.set_major_formatter(plt.FixedFormatter([str(t) for t in price_ticks]))
ax.yaxis.set_minor_locator(NullLocator())
ax.tick_params(axis='y', which='major', right=True, length=3, width=0.8, color=AX_COLOR,
               labelcolor=AX_COLOR, labelsize=8.2, pad=3.5)
ax.set_xticks([])
for s in ax.spines.values():
    s.set_visible(False)

# RSI pane
ax_rsi = fig.add_axes(rect(0, 817, 1807, 973))
ax_rsi.axhspan(30, 70, color='#800080', alpha=0.1, lw=0)
ax_rsi.axhline(70, color='#7b6f7e', lw=0.9, ls=(0, (7, 5)))
ax_rsi.axhline(30, color='#7b6f7e', lw=0.9, ls=(0, (7, 5)))
sns.lineplot(x=rsi_day, y=rsi_val, color='#b05cb8', lw=0.85, estimator=None, ax=ax_rsi)
ax_rsi.set_xlim(0, 903.5)
ax_rsi.set_ylim(17.9, 96.85)
ax_rsi.yaxis.tick_right()
ax_rsi.set_yticks(rsi_ticks, [f'{t}.0000' for t in rsi_ticks])
ax_rsi.set_xticks(month_days, month_labels)
ax_rsi.tick_params(axis='y', right=True, length=3, width=0.8, color=AX_COLOR, labelcolor=AX_COLOR,
                   labelsize=8.2, pad=3.5)
ax_rsi.tick_params(axis='x', bottom=True, length=3, width=0.8, color=AX_COLOR, labelcolor=AX_COLOR,
                   labelsize=8.2, pad=5.7)
ax_rsi.set_xlabel('')
ax_rsi.set_ylabel('')
for lab in ax_rsi.get_xticklabels():
    if lab.get_text().startswith('20'):
        lab.set_fontweight('bold')
for s in ax_rsi.spines.values():
    s.set_visible(False)

# pane borders and price scale line
px_line([0, W], [816.5, 816.5])
px_line([0, W], [973.5, 973.5])
px_line([1807.5, 1807.5], [0, 1000])
fig.add_artist(Rectangle((0, 0), 1, 3 / H, transform=fig.transFigure, facecolor='#e8e8f0', lw=0))

# last price flag
shape(Rectangle((1808, H - 187), 40, 18, facecolor='black', lw=0))
label(1816, 178, '4685', color='white')

# header, Persian words written in presentation forms in visual order
name = ('\uFEEA\uFEE7\uFE8E\uFBFF\uFEE3\uFEAD\uFEED\uFE8E\uFEA7 \uFB8F\uFEE7\uFE8E\uFE91')
market = ('\uFEE5\uFE8D\uFEAE\uFEEC\uFE97 \uFEB1\uFEAD\uFEEE\uFE91')
label(11, 14, name, size=11.2, family='DejaVu Sans')
label(110, 11, '\u00b7', color='#9598a1', size=8)
label(117, 14, 'D', size=11)
label(132, 11, '\u00b7', color='#9598a1', size=8)
label(140, 14, market, size=11, family='DejaVu Sans')
for x_letter, letter, x_val, val in [(227, 'O', 238, '4785'), (272, 'H', 283, '4785'),
                                     (317, 'L', 325, '4615'), (358, 'C', 368, '4685')]:
    label(x_letter, 14, letter, color=AX_COLOR, size=8.8)
    label(x_val, 14, val, size=8.8)
label(402, 14, '+15 (+0.32%)', size=9.2)
label(1728, 15, 'Market Closed', color='#a8a8ad', size=8.2)
shape(Circle((1721, H - 15), 2.5, facecolor='#9a9a9f', lw=0))

label(36, 39, 'Volume', size=9)
label(82, 39, '20', color=AX_COLOR, size=9)
label(106, 39, '22.89M', color='#f23645', size=9)
label(156, 39, '18.193M', color='#2196f3', size=9)

label(36, 832, 'RSI', size=9)
label(61, 832, '14', color=AX_COLOR, size=9)
label(84, 832, '64.3125', color='#800080', size=9)

# collapse buttons
for y_mid in (39.5, 833):
    shape(FancyBboxPatch((9, H - y_mid - 9), 19, 18, boxstyle='round,pad=0,rounding_size=2',
                         facecolor='white', edgecolor='#d1d4dc', lw=0.8))
    px_line([15, 18.5, 22], [y_mid - 1.5, y_mid + 1.5, y_mid - 1.5], color='#131722', lw=0.8)

# watermark
word1 = '\uFEE5\uFE8D\uFEAE\uFBFE\uFE8D'
word2 = '\uFBFC\uFEAD\uFE8D\uFEAC\uFB94'
word3 = '\uFEEA\uFBFE\uFE8E\uFEE3\uFEAE\u0640\u0640\u0640\uFEB3'
word4 = '\uFEE5\uFE8E\u0640\u0640\u0640\u0640\u0640\u0640\uFB94\uFEAE\uFE92\uFEA7'
word5 = '\uFEE6\uFEE4\uFEA0\uFEE7\uFE8D'
label(333, 421, ' '.join([word1, word2, word3, word4, word5]), color='#4caf50', size=13.2, family='DejaVu Sans')
label(333, 447, 'AMOOZESH-BOORS.COM', color='#4caf50', size=17.25, family='DejaVu Sans', fontweight='bold')

# logo badge
shape(Circle((24.5, H - 943), 16.5, facecolor='white', edgecolor='#e6dfe6', lw=1))
for cx, cy, rx, ry in [(19, 946, 6, 3.5), (25, 941, 7, 5), (31, 945, 5.5, 4)]:
    shape(Ellipse((cx, H - cy), 2 * rx, 2 * ry, facecolor='#2f9ef5', lw=0))
shape(Rectangle((16, H - 949), 18, 4, facecolor='#2f9ef5', lw=0))
px_line([15, 21, 25, 30, 35], [946, 940, 945, 941, 946], color='white', lw=1.2)

# settings gear
shape(Circle((1836, H - 988), 4.5, facecolor='white', edgecolor='#131722', lw=0.9))
for dx, dy in [(0, 6.5), (0, -6.5), (6.5, 0), (-6.5, 0), (4.6, 4.6), (-4.6, 4.6), (4.6, -4.6), (-4.6, -4.6)]:
    px_line([1836 + dx * 0.75, 1836 + dx], [988 + dy * 0.75, 988 + dy], color='#131722', lw=1)

fig.savefig('out.png', dpi=100)
